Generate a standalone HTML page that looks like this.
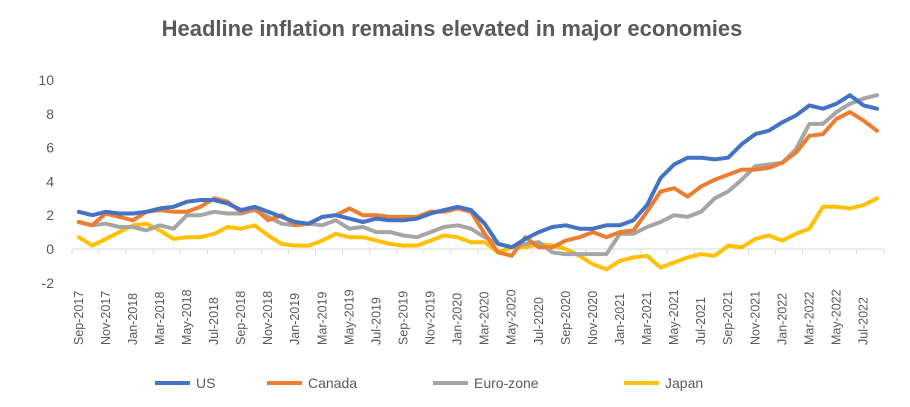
<!DOCTYPE html>
<html><head><meta charset="utf-8"><style>
body{margin:0;background:#fff;}
svg{display:block;font-family:"Liberation Sans",Arial,sans-serif;}
</style></head><body>
<svg id="s" width="910" height="407" viewBox="0 0 910 407" xmlns="http://www.w3.org/2000/svg">
<rect width="910" height="407" fill="#fff"/>
<text x="452" y="36" text-anchor="middle" font-size="22" font-weight="bold" fill="#595959">Headline inflation remains elevated in major economies</text>
<g id="g"></g>
</svg>
<script>
var US=[2.2,2.0,2.2,2.1,2.1,2.2,2.4,2.5,2.8,2.9,2.9,2.7,2.3,2.5,2.2,1.9,1.6,1.5,1.9,2.0,1.8,1.6,1.8,1.7,1.7,1.8,2.1,2.3,2.5,2.3,1.5,0.3,0.1,0.6,1.0,1.3,1.4,1.2,1.2,1.4,1.4,1.7,2.6,4.2,5.0,5.4,5.4,5.3,5.4,6.2,6.8,7.0,7.5,7.9,8.5,8.3,8.6,9.1,8.5,8.3];
var CA=[1.6,1.4,2.1,1.9,1.7,2.2,2.3,2.2,2.2,2.5,3.0,2.8,2.2,2.4,1.7,2.0,1.4,1.5,1.9,2.0,2.4,2.0,2.0,1.9,1.9,1.9,2.2,2.2,2.4,2.2,0.9,-0.2,-0.4,0.7,0.1,0.1,0.5,0.7,1.0,0.7,1.0,1.1,2.2,3.4,3.6,3.1,3.7,4.1,4.4,4.7,4.7,4.8,5.1,5.7,6.7,6.8,7.7,8.1,7.6,7.0];
var EU=[1.6,1.4,1.5,1.3,1.3,1.1,1.4,1.2,2.0,2.0,2.2,2.1,2.1,2.3,1.9,1.5,1.4,1.5,1.4,1.7,1.2,1.3,1.0,1.0,0.8,0.7,1.0,1.3,1.4,1.2,0.7,0.3,0.1,0.3,0.4,-0.2,-0.3,-0.3,-0.3,-0.3,0.9,0.9,1.3,1.6,2.0,1.9,2.2,3.0,3.4,4.1,4.9,5.0,5.1,5.9,7.4,7.4,8.1,8.6,8.9,9.1];
var JP=[0.7,0.2,0.6,1.0,1.4,1.5,1.1,0.6,0.7,0.7,0.9,1.3,1.2,1.4,0.8,0.3,0.2,0.2,0.5,0.9,0.7,0.7,0.5,0.3,0.2,0.2,0.5,0.8,0.7,0.4,0.4,-0.2,0.1,0.1,0.3,0.2,0.0,-0.4,-0.9,-1.2,-0.7,-0.5,-0.4,-1.1,-0.8,-0.5,-0.3,-0.4,0.2,0.1,0.6,0.8,0.5,0.9,1.2,2.5,2.5,2.4,2.6,3.0];
var x0=72,dx=13.53,y0=249,ky=16.9;
function X(i){return x0+dx*(i+0.5);}function Y(v){return y0-v*ky;}
var h='';
h+='<line x1="'+x0+'" y1="'+y0+'" x2="'+(x0+dx*60)+'" y2="'+y0+'" stroke="#d9d9d9" stroke-width="1"/>';
for(var i=0;i<=60;i+=2){h+='<line x1="'+(x0+dx*i)+'" y1="'+y0+'" x2="'+(x0+dx*i)+'" y2="'+(y0+5)+'" stroke="#d9d9d9"/>';}
var yl=[10,8,6,4,2,0,-2];
yl.forEach(function(v){h+='<text x="54" y="'+(Y(v)+5)+'" text-anchor="end" font-size="14" fill="#595959">'+v+'</text>';});
var mn=['Jan','Feb','Mar','Apr','May','Jun','Jul','Aug','Sep','Oct','Nov','Dec'];
for(var i=0;i<60;i+=2){var m=(8+i)%12,yr=2017+Math.floor((8+i)/12);var x=X(i)+4;
h+='<text transform="translate('+x+',345) rotate(-90)" text-anchor="start" font-size="12.5" fill="#595959">'+mn[m]+'-'+yr+'</text>';}
function line(d,c){var p=d.map(function(v,i){return X(i).toFixed(1)+','+Y(v).toFixed(1);}).join(' ');
return '<polyline points="'+p+'" fill="none" stroke="'+c+'" stroke-width="4" stroke-linejoin="round" stroke-linecap="round"/>';}
h+=line(JP,'#ffc000')+line(EU,'#a5a5a5')+line(CA,'#ed7d31')+line(US,'#4472c4');
var lg=[['US','#4472c4',155],['Canada','#ed7d31',267],['Euro-zone','#a5a5a5',433],['Japan','#ffc000',624]];
lg.forEach(function(l){h+='<line x1="'+l[2]+'" y1="383" x2="'+(l[2]+35)+'" y2="383" stroke="'+l[1]+'" stroke-width="4"/>';
h+='<text x="'+(l[2]+41)+'" y="388" font-size="14" fill="#595959">'+l[0]+'</text>';});
document.getElementById('g').innerHTML=h;
</script>
</body></html>
